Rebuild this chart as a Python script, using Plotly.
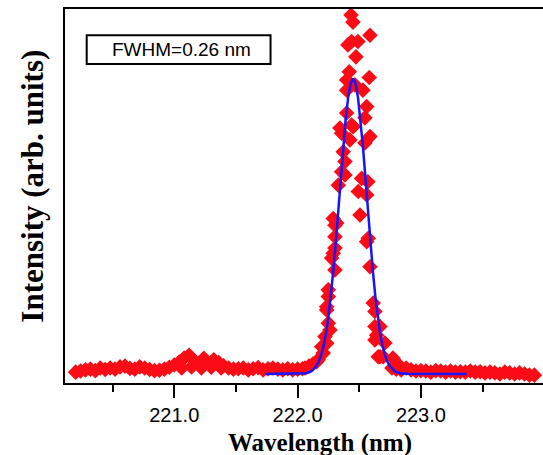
import plotly.graph_objects as go

# ---- data ----
baseline_left_wl = [220.20, 220.24, 220.28, 220.32, 220.36, 220.40, 220.44, 220.48, 220.52, 220.56,
                    220.60, 220.64, 220.68, 220.72, 220.76, 220.80, 220.84, 220.88, 220.92, 220.96,
                    221.00, 221.04, 221.08, 221.12, 221.16, 221.20, 221.24, 221.28, 221.32, 221.36,
                    221.40, 221.44, 221.48, 221.52, 221.56, 221.60, 221.64, 221.68, 221.72, 221.76,
                    221.80, 221.84, 221.88, 221.92, 221.96, 222.00, 222.04]
baseline_left_int = [0.029, 0.032, 0.035, 0.037, 0.033, 0.040, 0.036, 0.040, 0.037, 0.043,
                     0.045, 0.039, 0.037, 0.043, 0.040, 0.036, 0.033, 0.034, 0.037, 0.042,
                     0.048, 0.056, 0.067, 0.074, 0.060, 0.052, 0.066, 0.050, 0.062, 0.055,
                     0.046, 0.040, 0.037, 0.038, 0.040, 0.035, 0.038, 0.041, 0.035, 0.038,
                     0.040, 0.037, 0.035, 0.038, 0.035, 0.037, 0.038]

bump_extra_wl = [221.06, 221.14, 221.22, 221.30, 221.38]
bump_extra_int = [0.040, 0.043, 0.040, 0.042, 0.040]

peak_wl = [222.060, 222.092, 222.124, 222.154, 222.167, 222.195, 222.208, 222.222, 222.236, 222.236,
           222.236, 222.249, 222.249, 222.249, 222.262, 222.276, 222.289, 222.289, 222.303, 222.303,
           222.303, 222.303, 222.317, 222.330, 222.343, 222.357, 222.357, 222.370, 222.384, 222.384,
           222.398, 222.398, 222.398, 222.408, 222.419, 222.424, 222.433, 222.449, 222.438, 222.438,
           222.451, 222.465, 222.473, 222.489, 222.492, 222.506, 222.519, 222.530, 222.546, 222.546,
           222.560, 222.560, 222.560, 222.570, 222.573, 222.581, 222.587, 222.587, 222.587, 222.613,
           222.627, 222.627, 222.627, 222.641, 222.654, 222.668, 222.668, 222.694, 222.708, 222.765,
           222.773, 222.830]
peak_int = [0.040, 0.045, 0.051, 0.057, 0.062, 0.097, 0.080, 0.124, 0.106, 0.204,
            0.195, 0.160, 0.231, 0.249, 0.142, 0.334, 0.347, 0.440, 0.422, 0.391,
            0.361, 0.302, 0.428, 0.529, 0.682, 0.668, 0.565, 0.618, 0.592, 0.556,
            0.810, 0.783, 0.722, 0.904, 0.832, 0.650, 0.984, 0.965, 0.913, 0.690,
            0.685, 0.797, 0.872, 0.913, 0.512, 0.449, 0.547, 0.783, 0.709, 0.642,
            0.739, 0.503, 0.378, 0.538, 0.387, 0.817, 0.930, 0.659, 0.311, 0.214,
            0.191, 0.151, 0.115, 0.128, 0.070, 0.151, 0.070, 0.070, 0.107, 0.040,
            0.067, 0.045]

baseline_right_wl = [222.80, 222.84, 222.88, 222.92, 222.96, 223.00, 223.04, 223.08, 223.12, 223.16,
                     223.20, 223.24, 223.28, 223.32, 223.36, 223.40, 223.44, 223.48, 223.52, 223.56,
                     223.60, 223.64, 223.68, 223.72, 223.76, 223.80, 223.84, 223.88, 223.92]
baseline_right_int = [0.037, 0.035, 0.040, 0.035, 0.032, 0.033, 0.032, 0.029, 0.033, 0.032,
                      0.029, 0.032, 0.029, 0.030, 0.029, 0.032, 0.029, 0.030, 0.027, 0.029,
                      0.027, 0.024, 0.029, 0.027, 0.024, 0.027, 0.024, 0.021, 0.021]

fit_wl = [221.74, 221.90, 222.01, 222.07, 222.11, 222.15, 222.17, 222.19, 222.21, 222.23,
          222.25, 222.27, 222.29, 222.31, 222.33, 222.35, 222.37, 222.39, 222.41, 222.43,
          222.45, 222.47, 222.49, 222.51, 222.53, 222.55, 222.57, 222.59, 222.61, 222.63,
          222.65, 222.67, 222.69, 222.71, 222.73, 222.75, 222.79, 222.83, 222.89, 223.00, 223.37]
fit_int = [0.0241, 0.0241, 0.0244, 0.026, 0.031, 0.044, 0.056, 0.073, 0.098, 0.132,
           0.177, 0.233, 0.301, 0.378, 0.462, 0.549, 0.632, 0.706, 0.763, 0.801,
           0.814, 0.801, 0.763, 0.706, 0.632, 0.549, 0.462, 0.378, 0.301, 0.233,
           0.177, 0.132, 0.098, 0.073, 0.056, 0.044, 0.031, 0.026, 0.0244, 0.0241, 0.0241]

x_ticks = [221.0, 222.0, 223.0]
x_tick_labels = ["221.0", "222.0", "223.0"]
x_minor_ticks = [220.5, 221.5, 222.5, 223.5]
fwhm_label = "FWHM=0.26 nm"
x_title = "<b>Wavelength (nm)</b>"
y_title = "<b>Intensity (arb. units)</b>"

wl = baseline_left_wl + bump_extra_wl + peak_wl + baseline_right_wl
inten = baseline_left_int + bump_extra_int + peak_int + baseline_right_int

fig = go.Figure()
fig.add_trace(go.Scatter(
    x=wl, y=inten, mode="markers",
    marker=dict(symbol="diamond", size=12, color="rgb(250,12,22)", line=dict(width=0)),
    showlegend=False, hoverinfo="skip"))
fig.add_trace(go.Scatter(
    x=fit_wl, y=fit_int, mode="lines",
    line=dict(color="rgb(20,20,255)", width=2.5),
    showlegend=False, hoverinfo="skip"))

serif = "Liberation Serif, Times New Roman"
sans = "Liberation Sans, Arial"

fig.update_layout(
    width=543, height=455,
    margin=dict(l=65, r=0, t=9, b=72),
    paper_bgcolor="white", plot_bgcolor="white",
    xaxis=dict(
        range=[220.114, 223.99],
        automargin=False,
        tickmode="array", tickvals=x_ticks, ticktext=x_tick_labels,
        ticks="outside", ticklen=13, tickwidth=2, tickcolor="black",
        minor=dict(tickmode="array", tickvals=x_minor_ticks,
                   ticks="outside", ticklen=7, tickwidth=2, tickcolor="black"),
        showline=True, linecolor="black", linewidth=2, mirror=True,
        showgrid=False, zeroline=False,
        tickfont=dict(family=sans, size=20, color="black"),
    ),
    yaxis=dict(
        range=[0, 1.0],
        showticklabels=False, ticks="",
        showline=True, linecolor="black", linewidth=2,
        showgrid=False, zeroline=False,
        automargin=False,
    ),
    shapes=[dict(type="rect", xref="paper", yref="paper",
                 x0=0.0454, x1=0.430, y0=0.853, y1=0.930,
                 line=dict(color="black", width=2), fillcolor="white", layer="below")],
    annotations=[
        dict(text=fwhm_label, xref="paper", yref="paper", x=0.244, y=0.8915,
             showarrow=False, xanchor="center", yanchor="middle",
             font=dict(family=sans, size=19, color="black")),
        dict(text=x_title, xref="paper", yref="paper", x=0.5335, y=-0.1604,
             showarrow=False, xanchor="center", yanchor="middle",
             font=dict(family=serif, size=25, color="black")),
        dict(text=y_title, xref="paper", yref="paper", x=-0.0669, y=0.525,
             showarrow=False, xanchor="center", yanchor="middle", textangle=-90,
             font=dict(family=serif, size=31, color="black")),
    ],
)

fig.write_html("out.html",
               config={"displayModeBar": False},
               post_script="document.body.style.margin='0';document.body.style.overflow='hidden';")
